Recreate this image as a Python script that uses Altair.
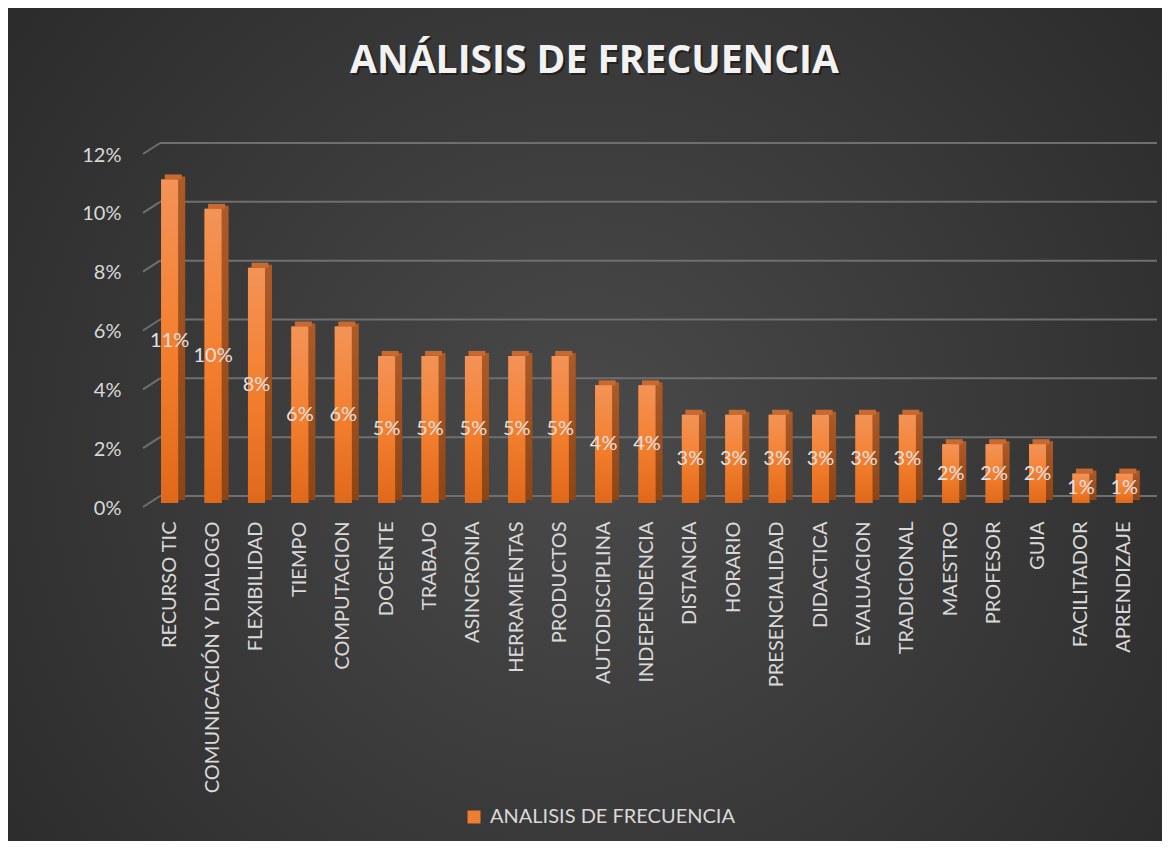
import altair as alt
import pandas as pd

categories = ["RECURSO TIC", "COMUNICACIÓN Y DIALOGO", "FLEXIBILIDAD", "TIEMPO",
              "COMPUTACION", "DOCENTE", "TRABAJO", "ASINCRONIA", "HERRAMIENTAS",
              "PRODUCTOS", "AUTODISCIPLINA", "INDEPENDENCIA", "DISTANCIA", "HORARIO",
              "PRESENCIALIDAD", "DIDACTICA", "EVALUACION", "TRADICIONAL", "MAESTRO",
              "PROFESOR", "GUIA", "FACILITADOR", "APRENDIZAJE"]
values = [0.11, 0.10, 0.08, 0.06, 0.06, 0.05, 0.05, 0.05, 0.05, 0.05, 0.04, 0.04,
          0.03, 0.03, 0.03, 0.03, 0.03, 0.03, 0.02, 0.02, 0.02, 0.01, 0.01]
tick_values = [0, 0.02, 0.04, 0.06, 0.08, 0.10, 0.12]
series_name = "ANALISIS DE FRECUENCIA"
title_text = "ANÁLISIS DE FRECUENCIA"

W, H = 998, 353
FONT = "Lato"
LABEL_COLOR = "#d9d9d9"
GRID_COLOR = "#6f6f6f"

df = pd.DataFrame({"cat": categories, "val": values})
df["serie"] = series_name
ticks = pd.DataFrame({"v": tick_values})

yscale = alt.Scale(domain=[0, 0.12], nice=False, zero=True)
xscale = alt.Scale(paddingInner=0, paddingOuter=0)
x_axis = alt.Axis(labelAngle=-90, labelFontSize=20, labelColor=LABEL_COLOR, labelFont=FONT,
                  labelPadding=18, labelLimit=0, labelOverlap=False, domain=False,
                  ticks=False, title=None, grid=False, zindex=1)
y_axis = alt.Axis(values=tick_values, format=".0%", labelFontSize=20, labelColor=LABEL_COLOR,
                  labelFont=FONT, labelPadding=27, labelOffset=5, domain=False, ticks=False,
                  title=None, grid=False, zindex=1)

X = alt.X("cat:N", sort=categories, scale=xscale, axis=x_axis)

bg_gradient = {
    "gradient": "radial",
    "x1": 0.5, "y1": 0.52, "r1": 0,
    "x2": 0.5, "y2": 0.52, "r2": 0.72,
    "stops": [
        {"offset": 0, "color": "#4a4a4a"},
        {"offset": 1, "color": "#262626"},
    ],
}
front_gradient = {
    "gradient": "linear", "x1": 0, "y1": 0, "x2": 0, "y2": 1,
    "stops": [
        {"offset": 0, "color": "#f39358"},
        {"offset": 0.5, "color": "#f4802f"},
        {"offset": 1, "color": "#e0681a"},
    ],
}
side_gradient = {
    "gradient": "linear", "x1": 0, "y1": 0, "x2": 0, "y2": 1,
    "stops": [
        {"offset": 0, "color": "#ad5a26"},
        {"offset": 1, "color": "#8e4414"},
    ],
}

bg = alt.Chart(alt.Data(values=[{"a": 1}])).mark_rect(fill=bg_gradient).encode(
    x=alt.value(-150), x2=alt.value(W + 30), y=alt.value(-150), y2=alt.value(H + 350)
)

grid_slant = alt.Chart(ticks).mark_rule(color=GRID_COLOR, strokeWidth=2, yOffset=4, y2Offset=-7).encode(
    x=alt.value(-5), x2=alt.value(12),
    y=alt.Y("v:Q", scale=yscale, axis=y_axis), y2="v:Q"
)
grid_back = alt.Chart(ticks).mark_rule(color=GRID_COLOR, strokeWidth=2, yOffset=-7, y2Offset=-7).encode(
    x=alt.value(12), x2=alt.value(W + 11),
    y=alt.Y("v:Q", scale=yscale, axis=y_axis), y2="v:Q"
)

Yv = alt.Y("val:Q", scale=yscale, axis=y_axis)

bars_legend = alt.Chart(df).mark_bar(size=17).encode(
    x=X, y=Yv,
    color=alt.Color("serie:N", scale=alt.Scale(range=["#ed7d31"]),
                    legend=alt.Legend(title=None, orient="none", legendX=316, legendY=657,
                                      symbolType="square", symbolSize=169, symbolStrokeWidth=0,
                                      labelFontSize=20, labelColor=LABEL_COLOR, labelFont=FONT,
                                      labelOffset=6, labelLimit=0)),
)
bars_side = alt.Chart(df).mark_bar(size=7, xOffset=12, yOffset=-3, y2Offset=-2, color=side_gradient).encode(
    x=X, y=Yv
)
bars_top = alt.Chart(df).mark_tick(size=17, thickness=5, xOffset=3.5, yOffset=-2.5, color="#c8692f", opacity=1).encode(
    x=X, y=Yv
)
bars_front = alt.Chart(df).mark_bar(size=17, color=front_gradient).encode(
    x=X, y=Yv
)
labels = alt.Chart(df).transform_calculate(mid="datum.val / 2").mark_text(
    fontSize=20, font=FONT, color="#e2e2e2", baseline="middle", align="center"
).encode(
    x=X, y=alt.Y("mid:Q", scale=yscale, axis=y_axis), text=alt.Text("val:Q", format=".0%")
)

title_shadow = alt.Chart(alt.Data(values=[{"t": title_text}])).mark_text(
    fontSize=39, font="Open Sans", fontWeight="bold", color="#111111", opacity=0.6,
    align="center", baseline="alphabetic"
).encode(x=alt.value(448.5), y=alt.value(-75), text="t:N")
title = alt.Chart(alt.Data(values=[{"t": title_text}])).mark_text(
    fontSize=39, font="Open Sans", fontWeight="bold", color="#f2f2f2",
    align="center", baseline="alphabetic"
).encode(x=alt.value(446.5), y=alt.value(-77), text="t:N")

chart = alt.layer(
    bg, grid_slant, grid_back, bars_legend, bars_side, bars_top, bars_front, labels,
    title_shadow, title
).properties(
    width=W, height=H,
    autosize=alt.AutoSizeParams(type="none"),
    padding={"left": 140, "top": 142, "right": 16, "bottom": 338},
    background="#2b2b2b",
).configure_view(stroke=None, fill=None)

chart.save("out.html", embed_options={"renderer": "svg", "actions": False})
